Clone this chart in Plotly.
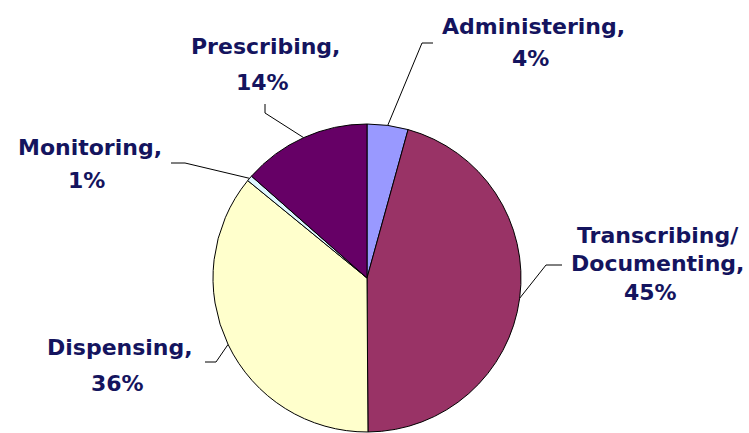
import math
import plotly.graph_objects as go

W, H = 749, 433

# Data (clockwise from 12 o'clock)
categories = ["Administering", "Transcribing/ Documenting", "Dispensing", "Monitoring", "Prescribing"]
values = [4.3, 45.6, 36.0, 0.6, 13.5]
label_lines = [
    ["Administering,", "4%"],
    ["Transcribing/", "Documenting,", "45%"],
    ["Dispensing,", "36%"],
    ["Monitoring,", "1%"],
    ["Prescribing,", "14%"],
]
colors = ["#9999FF", "#993366", "#FFFFCC", "#DDF6FF", "#660066"]

# Layout (pixel positions of pie and labels)
cx, cy, r = 367, 278, 154
label_pos = [
    [(533, 26), (530, 59)],
    [(658, 235), (657, 263), (650, 292)],
    [(120, 347), (117, 383)],
    [(90, 147), (86, 180)],
    [(265, 46), (262, 83)],
]
# leader elbow points (pixel)
leaders = [
    [(422, 43), (433, 43)],
    [(546, 265), (562, 265)],
    [(216, 362), (205, 362)],
    [(185, 163), (171, 163)],
    [(265, 113), (265, 104)],
]

def px(x):
    return x / W

def py(y):
    return 1 - y / H

fig = go.Figure(go.Pie(
    labels=categories,
    values=values,
    sort=False,
    direction="clockwise",
    rotation=0,
    textinfo="none",
    hoverinfo="label+percent",
    marker=dict(colors=colors, line=dict(color="#000000", width=1)),
    domain=dict(x=[px(cx - r), px(cx + r)], y=[py(cy + r), py(cy - r)]),
    showlegend=False,
))

font = dict(family="DejaVu Sans", size=22, color="#14145E", weight="bold")
annotations = []
for lines, poss in zip(label_lines, label_pos):
    for t, (x, y) in zip(lines, poss):
        annotations.append(dict(
            text=t, x=px(x), y=py(y), xref="paper", yref="paper",
            xanchor="center", yanchor="middle", showarrow=False, font=font,
        ))

shapes = []
total = sum(values)
cum = 0
for v, pts in zip(values, leaders):
    mid = (cum + v / 2) / total * 2 * math.pi
    cum += v
    ax = cx + r * math.sin(mid)
    ay = cy - r * math.cos(mid)
    path = f"M {px(ax)} {py(ay)}"
    for (x, y) in pts:
        path += f" L {px(x)} {py(y)}"
    shapes.append(dict(type="path", path=path, xref="paper", yref="paper",
                       line=dict(color="#000000", width=1)))

fig.update_layout(
    width=W, height=H,
    margin=dict(l=0, r=0, t=0, b=0),
    paper_bgcolor="#FFFFFF",
    plot_bgcolor="#FFFFFF",
    annotations=annotations,
    shapes=shapes,
)

fig.write_html(
    "out.html",
    config={"displayModeBar": False},
    post_script="document.body.style.margin='0';document.body.style.padding='0';document.body.style.overflow='hidden';",
)
